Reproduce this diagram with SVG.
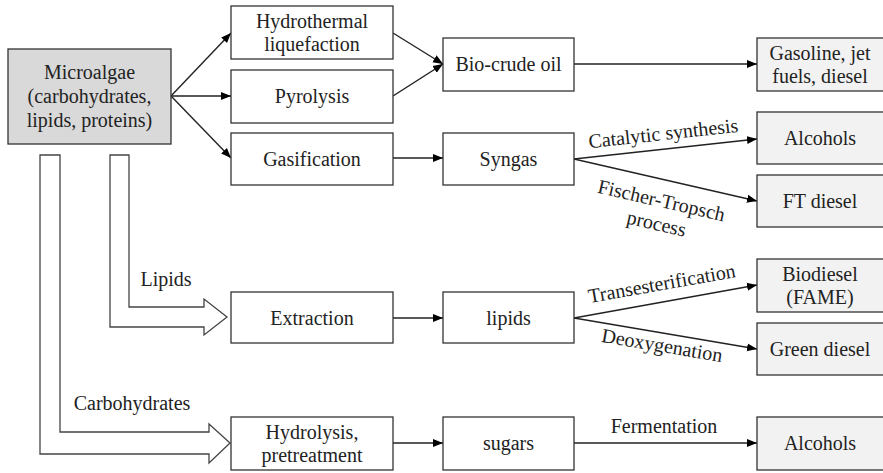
<svg xmlns="http://www.w3.org/2000/svg" width="883" height="473" viewBox="0 0 883 473">
<defs>
<marker id="ah" viewBox="0 0 10 10" refX="10" refY="5" markerWidth="10" markerHeight="10" markerUnits="userSpaceOnUse" orient="auto">
<path d="M0,1 L10,5 L0,9 Z" fill="#000"/>
</marker>
<style>
text{font-family:"Liberation Serif",Tinos,"Times New Roman",Times,"Noto Serif","DejaVu Serif",serif;font-size:20px;fill:#222;text-anchor:middle}
.b{fill:#fff;stroke:#333;stroke-width:1.3}
.g{fill:#d9d9d9;stroke:#333;stroke-width:1.3}
.l{fill:#f2f2f2;stroke:#333;stroke-width:1.3}
.c{stroke:#222;stroke-width:1.4;fill:none}
.ba{fill:#fff;stroke:#444;stroke-width:1.3}
</style>
</defs>
<rect width="883" height="473" fill="#fff"/>
<g id="connectors">
<path class="ba" d="M110,155 L129,155 L129,307 L204,307 L204,299 L227,317 L204,335 L204,327 L110,327 Z"/>
<path class="ba" d="M40,155 L60,155 L60,432 L209,432 L209,424 L230,443 L209,463 L209,454 L40,454 Z"/>
<line class="c" x1="171" y1="96" x2="231" y2="33" marker-end="url(#ah)"/>
<line class="c" x1="171" y1="96" x2="231" y2="96" marker-end="url(#ah)"/>
<line class="c" x1="171" y1="96" x2="231" y2="158" marker-end="url(#ah)"/>
<line class="c" x1="393" y1="33" x2="443" y2="64" marker-end="url(#ah)"/>
<line class="c" x1="393" y1="96" x2="443" y2="64" marker-end="url(#ah)"/>
<line class="c" x1="393" y1="158" x2="443" y2="158" marker-end="url(#ah)"/>
<line class="c" x1="574" y1="64" x2="757" y2="64" marker-end="url(#ah)"/>
<line class="c" x1="574" y1="159" x2="757" y2="139" marker-end="url(#ah)"/>
<line class="c" x1="574" y1="159" x2="757" y2="201" marker-end="url(#ah)"/>
<line class="c" x1="393" y1="318" x2="443" y2="318" marker-end="url(#ah)"/>
<line class="c" x1="574" y1="318" x2="757" y2="285" marker-end="url(#ah)"/>
<line class="c" x1="574" y1="318" x2="757" y2="349" marker-end="url(#ah)"/>
<line class="c" x1="393" y1="443" x2="443" y2="443" marker-end="url(#ah)"/>
<line class="c" x1="574" y1="443" x2="757" y2="443" marker-end="url(#ah)"/>
<text x="166" y="286">Lipids</text>
<text x="132" y="410">Carbohydrates</text>
<text x="664" y="140" transform="rotate(-6.2 664 140)">Catalytic synthesis</text>
<text x="660" y="207" transform="rotate(12.9 660 207)">Fischer-Tropsch</text>
<text x="655" y="230" transform="rotate(12.9 655 230)">process</text>
<text x="663" y="290" transform="rotate(-10 663 290)">Transesterification</text>
<text x="661" y="352" transform="rotate(9.6 661 352)">Deoxygenation</text>
<text x="664" y="433">Fermentation</text>
</g>
<g id="microalgae"><rect class="g" x="8" y="49" width="163" height="95"/><text x="89.5" y="79">Microalgae</text><text x="89.5" y="103">(carbohydrates,</text><text x="89.5" y="127">lipids, proteins)</text></g>
<g id="htl"><rect class="b" x="231" y="6" width="162" height="53"/><text x="312" y="28">Hydrothermal</text><text x="312" y="51">liquefaction</text></g>
<g id="pyrolysis"><rect class="b" x="231" y="70" width="162" height="53"/><text x="312" y="103">Pyrolysis</text></g>
<g id="gasification"><rect class="b" x="231" y="133" width="162" height="52"/><text x="312" y="166">Gasification</text></g>
<g id="biocrude"><rect class="b" x="443" y="38" width="131" height="53"/><text x="508.5" y="71">Bio-crude oil</text></g>
<g id="syngas"><rect class="b" x="443" y="133" width="131" height="52"/><text x="508.5" y="166">Syngas</text></g>
<g id="gasoline"><rect class="l" x="757" y="38" width="130" height="53"/><text x="820" y="60">Gasoline, jet</text><text x="820" y="83">fuels, diesel</text></g>
<g id="alcohols1"><rect class="l" x="757" y="112" width="130" height="52"/><text x="820" y="145">Alcohols</text></g>
<g id="ftdiesel"><rect class="l" x="757" y="175" width="130" height="52"/><text x="820" y="208">FT diesel</text></g>
<g id="extraction"><rect class="b" x="231" y="292" width="162" height="51"/><text x="312" y="325">Extraction</text></g>
<g id="lipids"><rect class="b" x="443" y="292" width="131" height="51"/><text x="508.5" y="325">lipids</text></g>
<g id="biodiesel"><rect class="l" x="757" y="259" width="130" height="53"/><text x="820" y="281">Biodiesel</text><text x="820" y="304">(FAME)</text></g>
<g id="greendiesel"><rect class="l" x="757" y="323" width="130" height="52"/><text x="820" y="356">Green diesel</text></g>
<g id="hydrolysis"><rect class="b" x="231" y="417" width="162" height="53"/><text x="312" y="439">Hydrolysis,</text><text x="312" y="462">pretreatment</text></g>
<g id="sugars"><rect class="b" x="443" y="417" width="131" height="53"/><text x="508.5" y="450">sugars</text></g>
<g id="alcohols2"><rect class="l" x="757" y="417" width="130" height="53"/><text x="820" y="450">Alcohols</text></g>
</svg>
